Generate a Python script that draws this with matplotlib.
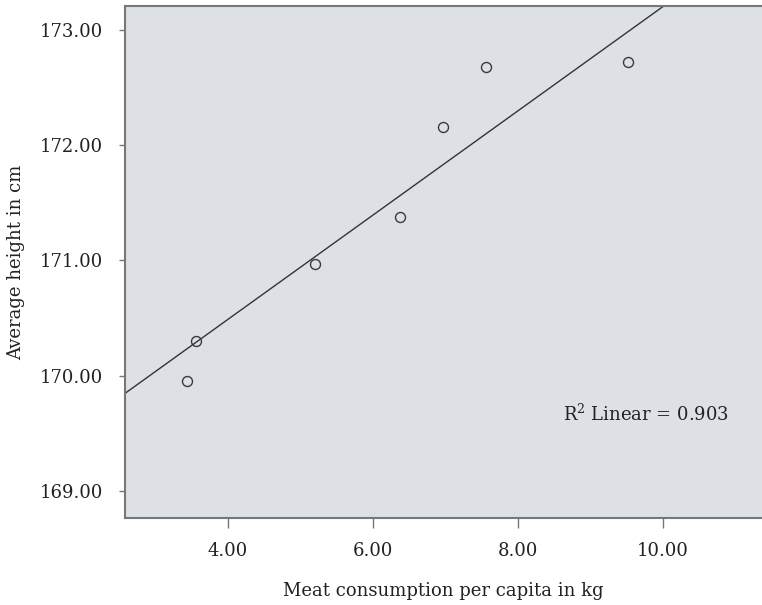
import matplotlib
matplotlib.use("Agg")
import matplotlib.pyplot as plt
import numpy as np

# Data
meat_kg = [3.44, 3.56, 5.20, 6.38, 6.97, 7.56, 9.52]
height_cm = [169.95, 170.30, 170.97, 171.38, 172.16, 172.68, 172.72]

# Linear fit line as shown in the reference (R^2 = 0.903)
fit_intercept = 168.679
fit_slope = 0.452
r2_text = "R$^2$ Linear = 0.903"

x_ticks = [4.0, 6.0, 8.0, 10.0]
y_ticks = [169.0, 170.0, 171.0, 172.0, 173.0]
x_label = "Meat consumption per capita in kg"
y_label = "Average height in cm"

plt.rcParams['font.family'] = ['DejaVu Serif']
plt.rcParams['mathtext.fontset'] = 'dejavuserif'

fig = plt.figure(figsize=(7.62, 6.05), dpi=100)
ax = fig.add_axes([125/762, 1-518/605, 1-125/762, (518-6.3)/605])
ax.set_facecolor('#dde0e5')

xmin, xmax = 2.583, 11.37
ymin, ymax = 168.766, 173.203
ax.set_xlim(xmin, xmax)
ax.set_ylim(ymin, ymax)

xs = np.array([xmin, xmax])
ax.plot(xs, fit_intercept + fit_slope * xs, color='#333333', lw=1.0, zorder=2)
ax.plot(meat_kg, height_cm, linestyle='none', marker='o', markersize=7.2,
        markerfacecolor='none', markeredgecolor='#3a3a3a', markeredgewidth=1.0, zorder=3)

ax.text(8.625, 169.668, r2_text, fontsize=13, color='#222222', va='center', ha='left')

ax.set_xticks(x_ticks)
ax.set_xticklabels([f"{v:.2f}" for v in x_ticks])
ax.set_yticks(y_ticks)
ax.set_yticklabels([f"{v:.2f}" for v in y_ticks])

ax.tick_params(axis='x', length=7, width=1, color='#777777', pad=10,
               labelsize=13, labelcolor='#222222')
ax.tick_params(axis='y', length=4, width=1, color='#777777', pad=12,
               labelsize=13, labelcolor='#222222')

for side in ['left', 'bottom', 'top']:
    ax.spines[side].set_color('#777777')
    ax.spines[side].set_linewidth(1.5)
ax.spines['right'].set_visible(False)

ax.set_xlabel(x_label, fontsize=13, color='#222222', labelpad=16)
ax.set_ylabel(y_label, fontsize=13, color='#222222', labelpad=10)

fig.savefig("out.png", dpi=100)
